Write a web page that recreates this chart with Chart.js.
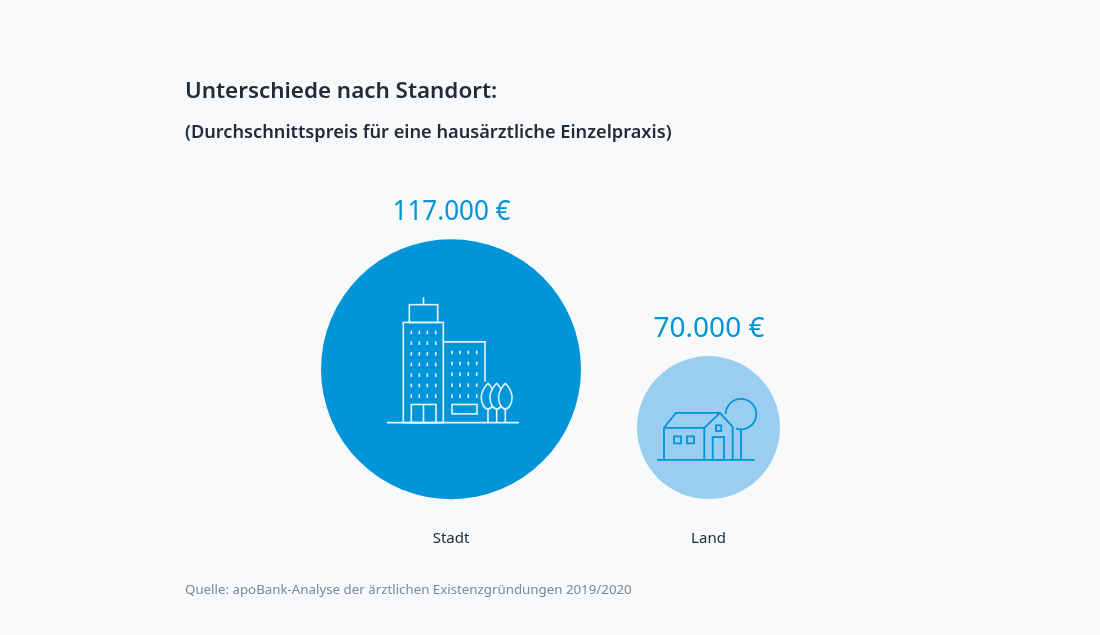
<!DOCTYPE html>
<html lang="de">
<head>
<meta charset="utf-8">
<title>Unterschiede nach Standort</title>
<script src="https://cdn.jsdelivr.net/npm/chart.js@4"></script>
<style>
    html, body { margin: 0; padding: 0; background: #f8f9fb; }
    body { position: relative; width: 1100px; height: 635px; overflow: hidden; font-family: "Noto Sans", sans-serif; }
    #chart { position: absolute; left: 0; top: 0; }
    .text { position: absolute; left: 185px; white-space: nowrap; color: #242b38; }
    #heading { top: 74px; font-size: 22.4px; line-height: 32px; font-weight: 600; }
    #subheading { top: 117px; font-size: 18.2px; line-height: 28px; font-weight: 600; }
    #source { top: 579px; font-size: 13.3px; line-height: 20px; color: #7c8799; }
</style>
</head>
<body>
<canvas id="chart" width="1100" height="635"></canvas>
<div class="text" id="heading">Unterschiede nach Standort:</div>
<div class="text" id="subheading">(Durchschnittspreis für eine hausärztliche Einzelpraxis)</div>
<div class="text" id="source">Quelle: apoBank-Analyse der ärztlichen Existenzgründungen 2019/2020</div>
<script>
const categories = ['Stadt', 'Land'];
const prices = [117000, 70000];
const priceLabels = ['117.000 €', '70.000 €'];

// Bubble sizes and colours
const bubbleRadii = [130, 71.5];
const bubbleColors = ['#0094d9', '#9acef0'];
const labelWidths = [118, 111];
const BLUE = '#0094d9';
const FONT = '"Noto Sans", sans-serif';

function strokeLines(ctx, points) {
    ctx.beginPath();
    points.forEach(([x, y], i) => (i ? ctx.lineTo(x, y) : ctx.moveTo(x, y)));
    ctx.stroke();
}

// Icons are drawn relative to the centre of their bubble
function drawCityIcon(ctx, cx, cy) {
    ctx.save();
    ctx.translate(cx, cy);
    ctx.strokeStyle = '#e6f4fc';
    ctx.lineWidth = 1.6;

    strokeLines(ctx, [[-64, 53.5], [68, 53.5]]);
    strokeLines(ctx, [[-27.5, -72], [-27.5, -64.5]]);
    ctx.strokeRect(-41.7, -64.5, 28.4, 17.8);
    ctx.strokeRect(-47.7, -46.7, 40, 100.2);
    strokeLines(ctx, [[-7.7, -27.3], [34, -27.3], [34, 12.7]]);
    ctx.strokeRect(-39.7, 35.3, 24.7, 18.2);
    strokeLines(ctx, [[-27.5, 35.3], [-27.5, 53.5]]);
    ctx.strokeRect(1, 35.3, 25, 9.4);

    ctx.fillStyle = '#e6f4fc';
    [-39.7, -31.7, -23.7, -15.3].forEach(x => {
        [-36.7, -26, -15.3, -4.7, 6, 16.3, 27].forEach(y => ctx.fillRect(x - 0.8, y - 1.8, 1.6, 3.6));
    });
    [1, 9, 17.3, 25.7].forEach(x => {
        [-16.7, -5.7, 5, 16, 27].forEach(y => ctx.fillRect(x - 0.8, y - 1.8, 1.6, 3.6));
    });

    [37, 45.7, 54.3].forEach(x => {
        ctx.beginPath();
        ctx.moveTo(x, 14.3);
        ctx.bezierCurveTo(x + 3, 17, x + 6.8, 23, x + 6.8, 28);
        ctx.bezierCurveTo(x + 6.8, 35, x + 3, 40, x, 40);
        ctx.bezierCurveTo(x - 3, 40, x - 6.8, 35, x - 6.8, 28);
        ctx.bezierCurveTo(x - 6.8, 23, x - 3, 17, x, 14.3);
        ctx.closePath();
        ctx.fillStyle = BLUE;
        ctx.fill();
        ctx.stroke();
        strokeLines(ctx, [[x, 40], [x, 53.5]]);
    });
    ctx.restore();
}

function drawHouseIcon(ctx, cx, cy) {
    ctx.save();
    ctx.translate(cx, cy);
    ctx.strokeStyle = BLUE;
    ctx.lineWidth = 1.8;

    strokeLines(ctx, [[-51.2, 32.2], [46.2, 32.2]]);
    strokeLines(ctx, [[-44.5, 32.2], [-44.5, 0.2], [-32.5, -14.8], [11.5, -14.8], [24.2, -0.8], [24.2, 32.2]]);
    strokeLines(ctx, [[-44.5, 0.2], [-4.2, 0.2], [11.5, -14.8]]);
    strokeLines(ctx, [[-4.2, 0.2], [-4.2, 32.2]]);
    ctx.strokeRect(7.5, -2.2, 5.3, 5.7);
    ctx.strokeRect(4.2, 9.5, 11.3, 22.7);
    ctx.strokeRect(-34.5, 8.8, 7, 7);
    ctx.strokeRect(-21.5, 8.8, 7, 7);

    ctx.beginPath();
    ctx.arc(32.5, -13.5, 15.3, Math.PI, 109 * Math.PI / 180);
    ctx.stroke();
    strokeLines(ctx, [[32.5, 1.8], [32.5, 32.2]]);
    ctx.restore();
}

const iconDrawers = [drawCityIcon, drawHouseIcon];

// Price above each bubble plus the line art inside it
const bubbleDecor = {
    id: 'bubbleDecor',
    afterDatasetsDraw(chart) {
        const { ctx } = chart;
        chart.getDatasetMeta(0).data.forEach((point, i) => {
            iconDrawers[i](ctx, point.x, point.y);
            ctx.save();
            ctx.fillStyle = BLUE;
            ctx.font = `28px ${FONT}`;
            ctx.textAlign = 'center';
            ctx.textBaseline = 'middle';
            ctx.fillText(priceLabels[i], point.x + 0.5, point.y - bubbleRadii[i] - 27, labelWidths[i]);
            ctx.restore();
        });
    }
};

new Chart(document.getElementById('chart').getContext('2d'), {
    type: 'bubble',
    data: {
        labels: categories,
        datasets: [{
            data: categories.map((name, i) => ({ x: name, y: prices[i], r: bubbleRadii[i] })),
            backgroundColor: bubbleColors,
            borderWidth: 0,
            hoverBorderWidth: 0,
            clip: false
        }]
    },
    options: {
        responsive: false,
        animation: false,
        layout: {
            autoPadding: false,
            padding: { left: 322.25, right: 262.75, top: 42.25, bottom: 80.6 }
        },
        plugins: {
            legend: { display: false },
            tooltip: { enabled: false }
        },
        scales: {
            x: {
                type: 'category',
                labels: categories,
                offset: true,
                grid: { display: false },
                border: { display: false },
                ticks: {
                    padding: 6.9,
                    color: '#242b38',
                    font: { family: FONT, size: 15 }
                }
            },
            y: {
                display: false,
                min: 0,
                max: 380000
            }
        }
    },
    plugins: [bubbleDecor]
});
</script>
</body>
</html>
